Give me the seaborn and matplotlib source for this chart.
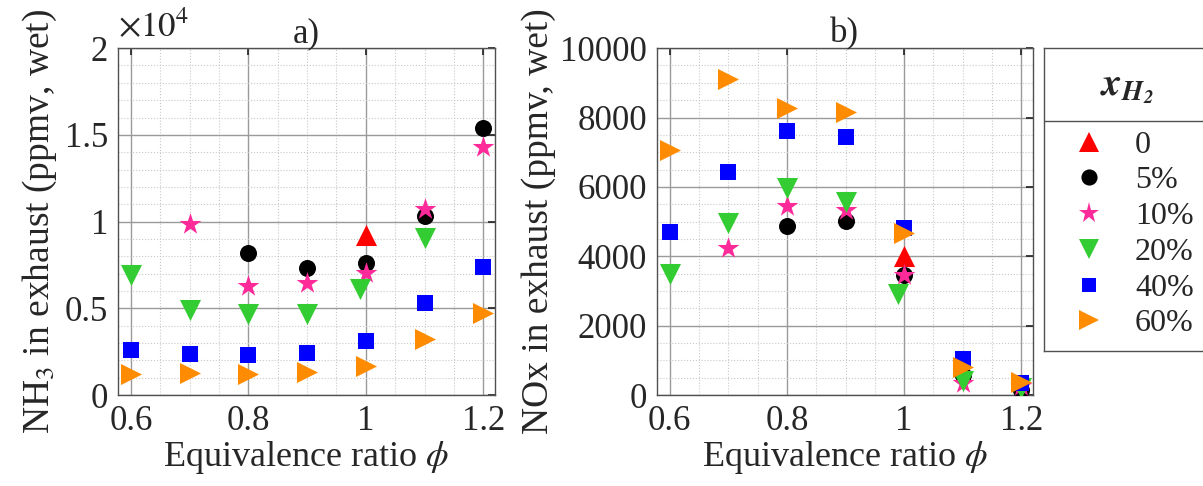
import numpy as np
import pandas as pd
import matplotlib
matplotlib.use('Agg')
import matplotlib.pyplot as plt
import seaborn as sns
from matplotlib.ticker import MultipleLocator, FuncFormatter
from matplotlib.lines import Line2D

# ------------------------------------------------------------------
# Data
# ------------------------------------------------------------------
groups  = ['0', '5%', '10%', '20%', '40%', '60%']
colors  = ['#FF0000', '#000000', '#FF2A9A', '#33CC33', '#0000FF', '#FF8C00']
markers = ['^', 'o', '*', 'v', 's', '>']
msizes  = [230, 150, 270, 230, 125, 230]

phi_0  = [1.0]
phi_5  = [0.8, 0.9, 1.0, 1.1, 1.2]
phi_10 = [0.7, 0.8, 0.9, 1.0, 1.1, 1.2]
phi_20 = [0.6, 0.7, 0.8, 0.9, 0.99, 1.1, 1.2]
phi_40 = [0.6, 0.7, 0.8, 0.9, 1.0, 1.1, 1.2]
phi_60 = [0.6, 0.7, 0.8, 0.9, 1.0, 1.1, 1.2]

nh3_0  = [9200]
nh3_5  = [8200, 7300, 7600, 10300, 15400]
nh3_10 = [9870, 6300, 6450, 7050, 10700, 14300]
nh3_20 = [6900, 4900, 4650, 4700, 6100, 9050, np.nan]
nh3_40 = [2600, 2350, 2300, 2400, 3100, 5300, 7400]
nh3_60 = [1200, 1250, 1200, 1350, 1650, 3250, 4750]

nox_0  = [4000]
nox_5  = [4880, 5010, 3470, 570, 150]
nox_10 = [4230, 5460, 5340, 3470, 350, 250]
nox_20 = [3490, 4950, 5970, 5560, 2910, 420, 200]
nox_40 = [4690, 6420, 7600, 7430, 4810, 1050, 350]
nox_60 = [7070, 9120, 8280, 8170, 4670, 800, 380]

phis = [phi_0, phi_5, phi_10, phi_20, phi_40, phi_60]
nh3  = [nh3_0, nh3_5, nh3_10, nh3_20, nh3_40, nh3_60]
nox  = [nox_0, nox_5, nox_10, nox_20, nox_40, nox_60]

# ------------------------------------------------------------------
# Style
# ------------------------------------------------------------------
sns.set_theme(style='white')
plt.rcParams['font.family'] = ['Liberation Serif', 'DejaVu Serif']
plt.rcParams['mathtext.fontset'] = 'stix'
FS = 25      # tick labels, titles
FS_X = 26    # x labels
FS_Y = 27    # y labels
FS_L = 23    # legend

fig = plt.figure(figsize=(12.03, 4.86), dpi=100)
ax_a = fig.add_axes([0.098, 0.187, 0.3135, 0.714])
ax_b = fig.add_axes([0.546, 0.187, 0.3127, 0.714])


def draw(ax, ys):
    for g, c, m, s, x, y in zip(groups, colors, markers, msizes, phis, ys):
        df = pd.DataFrame({'phi': x[:len(y)], 'val': y[:len(x)]}).dropna()
        sns.scatterplot(data=df, x='phi', y='val', color=c, marker=m, s=s,
                        linewidth=0, ax=ax, zorder=3, legend=False)
    ax.set_xlim(0.578, 1.22)
    ax.xaxis.set_major_locator(MultipleLocator(0.2))
    ax.xaxis.set_minor_locator(MultipleLocator(0.05))
    ax.xaxis.set_major_formatter(FuncFormatter(lambda v, p: '%g' % round(v, 2)))
    ax.grid(which='major', color='#9a9a9a', linewidth=1.0, linestyle='-')
    ax.grid(which='minor', color='#c8c8c8', linewidth=0.8, linestyle=':')
    ax.set_axisbelow(True)
    ax.tick_params(which='both', direction='in', top=True, right=True,
                   labelsize=FS, colors='#262626', pad=7)
    ax.tick_params(which='major', length=5)
    ax.tick_params(which='minor', length=0)
    for sp in ax.spines.values():
        sp.set_color('#505050')
        sp.set_linewidth(1.0)
    ax.set_xlabel(r'Equivalence ratio $\phi$', fontsize=FS_X, color='#262626',
                  labelpad=1)


draw(ax_a, nh3)
ax_a.set_ylim(0, 20000)
ax_a.yaxis.set_major_locator(MultipleLocator(5000))
ax_a.yaxis.set_minor_locator(MultipleLocator(1000))
ax_a.yaxis.set_major_formatter(FuncFormatter(lambda v, p: '%g' % (v / 1e4)))
ax_a.set_ylabel(r'NH$_3$ in exhaust (ppmv, wet)', fontsize=FS_Y, color='#262626',
                labelpad=4)
ax_a.set_title('a)', fontsize=FS, pad=4)
ax_a.text(0.0, 1.01, r'$\times 10^4$', transform=ax_a.transAxes,
          fontsize=FS, ha='left', va='bottom', color='#262626')

draw(ax_b, nox)
ax_b.set_ylim(0, 10000)
ax_b.yaxis.set_major_locator(MultipleLocator(2000))
ax_b.yaxis.set_minor_locator(MultipleLocator(500))
ax_b.yaxis.set_major_formatter(FuncFormatter(lambda v, p: '%d' % v))
ax_b.set_ylabel('NOx in exhaust (ppmv, wet)', fontsize=FS_Y, color='#262626',
                labelpad=3)
ax_b.set_title('b)', fontsize=FS, pad=4)

# ------------------------------------------------------------------
# Legend box with header
# ------------------------------------------------------------------
ax_l = fig.add_axes([0.868, 0.278, 0.16, 0.623])
ax_l.set_xticks([])
ax_l.set_yticks([])
ax_l.set_facecolor('white')
for sp in ax_l.spines.values():
    sp.set_color('#505050')
    sp.set_linewidth(1.0)
ax_l.axhline(0.76, color='#505050', linewidth=1.0)
ax_l.text(0.43, 0.87, r'$\mathbfit{x}_{\mathbfit{H}_{\mathbfit{2}}}$',
          transform=ax_l.transAxes, ha='center', va='center', fontsize=28)
handles = [Line2D([], [], linestyle='none', marker=m, color=c,
                  markersize=np.sqrt(s) * 0.95, markeredgewidth=0)
           for m, c, s in zip(markers, colors, msizes)]
ax_l.legend(handles, groups, loc='upper left', bbox_to_anchor=(0.052, 0.76),
            frameon=False, fontsize=FS_L, handlelength=1.6, handletextpad=0.63,
            labelspacing=0.2, borderpad=0.3, borderaxespad=0.0)

fig.savefig('out.png', dpi=100)
